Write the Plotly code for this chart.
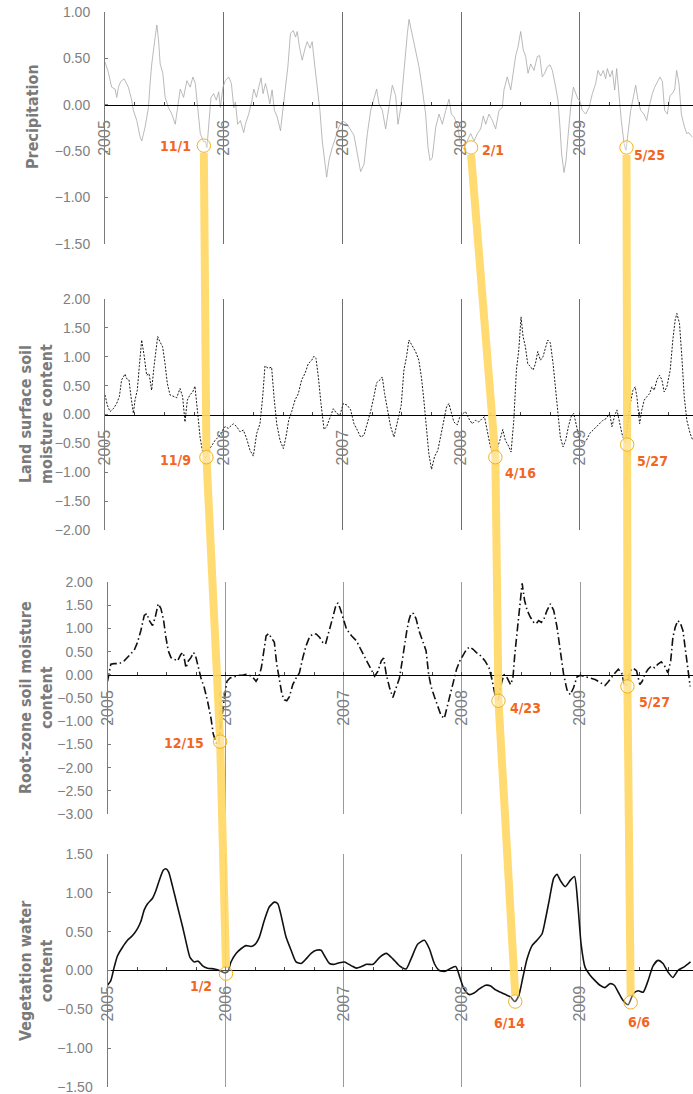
import plotly.graph_objects as go
from datetime import date

# ---------------- data (decimal year, standardized anomaly) ----------------
precip_points = [
    (2005.000, 0.46), (2005.028, 0.35), (2005.056, 0.19), (2005.085, 0.17), (2005.099, 0.08),
    (2005.113, 0.19), (2005.132, 0.25), (2005.161, 0.28), (2005.197, 0.19), (2005.225, 0.05),
    (2005.239, -0.06), (2005.268, -0.17), (2005.296, -0.35), (2005.310, -0.39), (2005.338, -0.24),
    (2005.366, -0.03), (2005.380, 0.23), (2005.394, 0.44), (2005.423, 0.73), (2005.437, 0.86),
    (2005.451, 0.70), (2005.465, 0.44), (2005.487, 0.34), (2005.507, 0.08), (2005.535, -0.03),
    (2005.563, -0.10), (2005.592, -0.21), (2005.606, -0.10), (2005.634, 0.17), (2005.662, 0.08),
    (2005.690, 0.26), (2005.718, 0.19), (2005.741, 0.30), (2005.761, 0.23), (2005.775, 0.05),
    (2005.789, -0.13), (2005.803, -0.31), (2005.831, -0.40), (2005.845, -0.39), (2005.859, -0.46),
    (2005.873, -0.24), (2005.893, 0.08), (2005.915, 0.12), (2005.938, 0.05), (2005.958, 0.14),
    (2005.972, -0.03), (2005.994, 0.19), (2006.014, 0.26), (2006.042, 0.30), (2006.065, 0.23),
    (2006.085, -0.03), (2006.099, 0.03), (2006.118, -0.21), (2006.141, -0.17), (2006.169, -0.30),
    (2006.183, -0.21), (2006.211, -0.10), (2006.239, 0.05), (2006.254, 0.17), (2006.276, 0.08),
    (2006.296, 0.19), (2006.315, 0.29), (2006.332, 0.12), (2006.352, 0.23), (2006.366, 0.16),
    (2006.389, 0.01), (2006.408, 0.16), (2006.428, -0.06), (2006.451, -0.13), (2006.479, -0.28),
    (2006.501, -0.03), (2006.521, 0.19), (2006.541, 0.41), (2006.563, 0.77), (2006.586, 0.80),
    (2006.606, 0.73), (2006.620, 0.79), (2006.639, 0.62), (2006.662, 0.48), (2006.682, 0.59),
    (2006.704, 0.68), (2006.727, 0.61), (2006.746, 0.68), (2006.766, 0.44), (2006.789, 0.16),
    (2006.811, -0.06), (2006.831, -0.39), (2006.851, -0.64), (2006.868, -0.78), (2006.887, -0.60),
    (2006.915, -0.46), (2006.944, -0.35), (2006.972, -0.24), (2007.000, -0.17),
    (2007.042, -0.21), (2007.098, -0.33), (2007.126, -0.53), (2007.154, -0.72), (2007.183, -0.64),
    (2007.211, -0.31), (2007.239, -0.06), (2007.267, 0.08), (2007.289, 0.17), (2007.309, 0.01),
    (2007.337, -0.06), (2007.365, -0.26), (2007.393, -0.03), (2007.421, 0.21), (2007.449, 0.10),
    (2007.469, -0.21), (2007.492, -0.03), (2007.514, 0.30), (2007.534, 0.55), (2007.548, 0.77),
    (2007.562, 0.92), (2007.581, 0.80), (2007.604, 0.66), (2007.626, 0.52), (2007.646, 0.41),
    (2007.674, 0.17), (2007.702, -0.10), (2007.722, -0.46), (2007.739, -0.60), (2007.758, -0.57),
    (2007.787, -0.24), (2007.815, -0.10), (2007.843, -0.21), (2007.871, -0.06), (2007.899, 0.06),
    (2007.919, -0.10), (2007.941, -0.13), (2007.969, -0.22), (2007.992, -0.39), (2008.011, -0.46),
    (2008.025, -0.48), (2008.053, -0.39), (2008.081, -0.31), (2008.110, -0.39), (2008.138, -0.31),
    (2008.166, -0.26), (2008.188, -0.12), (2008.208, -0.21), (2008.236, -0.10), (2008.264, -0.17),
    (2008.292, -0.26), (2008.320, -0.06), (2008.348, -0.03), (2008.362, 0.16), (2008.390, 0.30),
    (2008.419, 0.16), (2008.441, 0.37), (2008.461, 0.53), (2008.480, 0.62), (2008.503, 0.79),
    (2008.525, 0.59), (2008.545, 0.52), (2008.565, 0.34), (2008.587, 0.44), (2008.615, 0.37),
    (2008.643, 0.52), (2008.663, 0.53), (2008.685, 0.30), (2008.705, 0.34), (2008.728, 0.41),
    (2008.750, 0.43), (2008.770, 0.37), (2008.798, 0.19), (2008.817, 0.05), (2008.834, -0.24),
    (2008.848, -0.53), (2008.868, -0.73), (2008.885, -0.60), (2008.904, -0.31), (2008.924, -0.03),
    (2008.947, 0.19), (2008.966, 0.12), (2008.986, 0.06), (2009.000, 0.05), (2009.022, -0.06),
    (2009.051, -0.10), (2009.079, -0.03), (2009.107, 0.12), (2009.135, 0.23), (2009.154, 0.37),
    (2009.177, 0.31), (2009.199, 0.37), (2009.219, 0.28), (2009.233, 0.39), (2009.256, 0.30),
    (2009.275, 0.37), (2009.295, 0.16), (2009.312, 0.39), (2009.331, 0.08), (2009.351, -0.17),
    (2009.374, -0.42), (2009.390, -0.49), (2009.407, -0.31), (2009.430, -0.06), (2009.452, 0.08),
    (2009.472, 0.21), (2009.492, 0.05), (2009.514, -0.06), (2009.542, -0.10), (2009.565, -0.17),
    (2009.584, -0.03), (2009.612, 0.12), (2009.632, 0.19), (2009.654, 0.25), (2009.677, 0.30),
    (2009.697, 0.25), (2009.716, -0.06), (2009.739, -0.10), (2009.761, 0.10), (2009.781, 0.12),
    (2009.801, 0.17), (2009.817, 0.37), (2009.837, 0.23), (2009.857, -0.10), (2009.879, -0.22),
    (2009.902, -0.31), (2009.921, -0.30), (2009.949, -0.35),
]

land_points = [
    (2005.000, 0.34), (2005.020, 0.16), (2005.042, 0.05), (2005.070, 0.10), (2005.098, 0.19),
    (2005.121, 0.31), (2005.140, 0.60), (2005.169, 0.70), (2005.183, 0.62), (2005.202, 0.60),
    (2005.219, 0.31), (2005.239, 0.02), (2005.253, 0.25), (2005.272, 0.42), (2005.289, 0.83),
    (2005.309, 1.29), (2005.329, 1.03), (2005.351, 0.68), (2005.371, 0.71), (2005.393, 0.42),
    (2005.413, 0.83), (2005.430, 1.17), (2005.444, 1.35), (2005.463, 1.26), (2005.486, 1.17),
    (2005.506, 0.88), (2005.525, 0.54), (2005.548, 0.34), (2005.576, 0.31), (2005.604, 0.29),
    (2005.632, 0.45), (2005.654, 0.31), (2005.674, -0.13), (2005.694, 0.25), (2005.716, 0.34),
    (2005.739, 0.39), (2005.758, 0.49), (2005.772, 0.25), (2005.787, -0.10), (2005.801, -0.39),
    (2005.820, -0.62), (2005.837, -0.71), (2005.851, -0.76), (2005.871, -0.63), (2005.899, -0.53),
    (2005.927, -0.45), (2005.955, -0.39), (2005.983, -0.30), (2006.011, -0.21), (2006.039, -0.24),
    (2006.081, -0.16), (2006.110, -0.21), (2006.138, -0.30), (2006.166, -0.27), (2006.194, -0.42),
    (2006.222, -0.62), (2006.250, -0.72), (2006.278, -0.33), (2006.306, -0.16), (2006.329, 0.31),
    (2006.348, 0.84), (2006.376, 0.80), (2006.404, 0.82), (2006.424, 0.31), (2006.447, -0.16),
    (2006.475, -0.45), (2006.503, -0.59), (2006.525, -0.39), (2006.548, -0.10), (2006.573, 0.05),
    (2006.601, 0.25), (2006.629, 0.36), (2006.657, 0.60), (2006.685, 0.71), (2006.713, 0.88),
    (2006.742, 0.94), (2006.761, 1.01), (2006.778, 0.97), (2006.798, 0.65), (2006.820, 0.19),
    (2006.846, -0.26), (2006.868, -0.21), (2006.896, -0.04), (2006.924, 0.10), (2006.952, 0.02),
    (2006.980, -0.01), (2007.008, 0.19),
    (2007.042, 0.16), (2007.070, 0.08), (2007.098, -0.16), (2007.126, -0.27), (2007.154, -0.39),
    (2007.182, -0.36), (2007.210, -0.16), (2007.238, 0.05), (2007.266, 0.31), (2007.289, 0.55),
    (2007.317, 0.60), (2007.337, 0.65), (2007.356, 0.36), (2007.379, 0.08), (2007.407, -0.21),
    (2007.435, -0.39), (2007.457, -0.18), (2007.477, 0.02), (2007.496, 0.16), (2007.519, 0.77),
    (2007.541, 1.00), (2007.561, 1.29), (2007.589, 1.20), (2007.617, 1.09), (2007.645, 0.94),
    (2007.668, 0.62), (2007.687, 0.25), (2007.710, -0.21), (2007.729, -0.68), (2007.752, -0.95),
    (2007.777, -0.73), (2007.805, -0.62), (2007.827, -0.39), (2007.856, -0.04), (2007.878, 0.13),
    (2007.898, 0.19), (2007.917, 0.02), (2007.940, -0.13), (2007.968, -0.18), (2007.990, -0.04),
    (2008.018, 0.02), (2008.038, 0.05), (2008.066, -0.07), (2008.094, -0.16), (2008.122, -0.10),
    (2008.150, -0.13), (2008.178, -0.07), (2008.198, -0.04), (2008.220, -0.27), (2008.248, -0.56),
    (2008.276, -0.73), (2008.299, -0.62), (2008.327, -0.45), (2008.352, -0.26), (2008.374, -0.45),
    (2008.397, -0.53), (2008.422, -0.65), (2008.445, -0.10), (2008.467, 0.77), (2008.487, 1.12),
    (2008.506, 1.69), (2008.523, 1.35), (2008.543, 1.17), (2008.562, 0.88), (2008.585, 0.83),
    (2008.607, 0.77), (2008.627, 0.88), (2008.647, 1.09), (2008.669, 0.94), (2008.691, 1.00),
    (2008.714, 1.17), (2008.731, 1.29), (2008.753, 1.24), (2008.776, 0.88), (2008.795, 0.48),
    (2008.815, 0.02), (2008.837, -0.39), (2008.860, -0.56), (2008.882, -0.45), (2008.905, -0.21),
    (2008.927, -0.04), (2008.950, 0.02), (2008.972, -0.21), (2009.000, -0.45), (2009.028, -0.50),
    (2009.056, -0.45), (2009.084, -0.33), (2009.112, -0.27), (2009.140, -0.21), (2009.168, -0.16),
    (2009.196, -0.10), (2009.224, -0.07), (2009.252, 0.02), (2009.272, -0.21), (2009.292, -0.04),
    (2009.314, 0.08), (2009.337, -0.16), (2009.356, -0.33), (2009.384, -0.50), (2009.404, -0.21),
    (2009.426, 0.19), (2009.449, 0.42), (2009.468, 0.48), (2009.482, 0.31), (2009.505, -0.16),
    (2009.524, 0.08), (2009.544, 0.25), (2009.567, 0.31), (2009.589, 0.36), (2009.609, 0.48),
    (2009.628, 0.42), (2009.651, 0.60), (2009.673, 0.68), (2009.693, 0.60), (2009.712, 0.39),
    (2009.735, 0.48), (2009.763, 0.77), (2009.785, 1.29), (2009.805, 1.64), (2009.819, 1.75),
    (2009.841, 1.58), (2009.861, 1.00), (2009.881, 0.31), (2009.903, -0.10), (2009.931, -0.33),
    (2009.954, -0.45),
]

root_points = [
    (2005.000, -0.14), (2005.028, 0.23), (2005.056, 0.24), (2005.099, 0.24), (2005.141, 0.30),
    (2005.184, 0.41), (2005.226, 0.53), (2005.254, 0.70), (2005.282, 0.95), (2005.311, 1.28),
    (2005.333, 1.32), (2005.353, 1.17), (2005.381, 1.06), (2005.404, 1.24), (2005.429, 1.53),
    (2005.452, 1.43), (2005.475, 1.17), (2005.494, 0.81), (2005.514, 0.52), (2005.537, 0.37),
    (2005.565, 0.33), (2005.593, 0.30), (2005.621, 0.44), (2005.641, 0.48), (2005.664, 0.15),
    (2005.684, 0.30), (2005.706, 0.37), (2005.729, 0.48), (2005.749, 0.37), (2005.771, 0.15),
    (2005.791, -0.07), (2005.819, -0.28), (2005.847, -0.57), (2005.876, -0.94), (2005.895, -1.27),
    (2005.918, -1.46), (2005.941, -1.52), (2005.955, -1.16), (2005.969, -0.87), (2005.989, -0.50),
    (2006.011, -0.14), (2006.037, -0.07), (2006.059, -0.05), (2006.088, -0.03), (2006.116, -0.01),
    (2006.144, -0.01), (2006.172, 0.01), (2006.201, -0.01), (2006.229, -0.05), (2006.257, -0.14),
    (2006.280, -0.05), (2006.302, 0.15), (2006.322, 0.52), (2006.342, 0.84), (2006.364, 0.89),
    (2006.387, 0.81), (2006.412, 0.70), (2006.432, 0.23), (2006.455, -0.14), (2006.477, -0.43),
    (2006.497, -0.54), (2006.517, -0.56), (2006.540, -0.47), (2006.568, -0.21), (2006.596, -0.07),
    (2006.624, 0.04), (2006.653, 0.37), (2006.681, 0.63), (2006.709, 0.81), (2006.737, 0.88),
    (2006.766, 0.88), (2006.794, 0.81), (2006.822, 0.70), (2006.845, 0.66), (2006.864, 0.84),
    (2006.887, 1.03), (2006.907, 1.24), (2006.929, 1.46), (2006.949, 1.55), (2006.969, 1.43),
    (2006.992, 1.24),
    (2007.022, 0.99), (2007.065, 0.84), (2007.107, 0.73), (2007.149, 0.52), (2007.191, 0.30),
    (2007.233, 0.08), (2007.261, -0.03), (2007.289, 0.08), (2007.317, 0.30), (2007.337, 0.36),
    (2007.359, 0.01), (2007.387, -0.28), (2007.415, -0.49), (2007.443, -0.28), (2007.471, -0.07),
    (2007.494, 0.30), (2007.513, 0.66), (2007.533, 0.95), (2007.550, 1.17), (2007.569, 1.32),
    (2007.589, 1.32), (2007.611, 1.21), (2007.640, 0.92), (2007.668, 0.70), (2007.696, 0.52),
    (2007.718, 0.01), (2007.738, -0.25), (2007.766, -0.47), (2007.794, -0.68), (2007.822, -0.87),
    (2007.850, -0.94), (2007.872, -0.72), (2007.898, -0.43), (2007.926, -0.14), (2007.954, 0.12),
    (2007.982, 0.30), (2008.010, 0.44), (2008.038, 0.55), (2008.066, 0.60), (2008.094, 0.55),
    (2008.122, 0.48), (2008.158, 0.41), (2008.195, 0.30), (2008.229, 0.15), (2008.251, -0.07),
    (2008.271, -0.36), (2008.290, -0.56), (2008.307, -0.54), (2008.327, -0.25), (2008.355, 0.01),
    (2008.383, -0.07), (2008.411, -0.21), (2008.431, -0.07), (2008.447, 0.44), (2008.467, 0.95),
    (2008.487, 1.46), (2008.509, 1.97), (2008.529, 1.61), (2008.551, 1.39), (2008.579, 1.24),
    (2008.607, 1.13), (2008.627, 1.10), (2008.649, 1.17), (2008.672, 1.13), (2008.694, 1.21),
    (2008.720, 1.39), (2008.748, 1.53), (2008.776, 1.39), (2008.804, 1.03), (2008.832, 0.52),
    (2008.860, 0.01), (2008.888, -0.32), (2008.916, -0.43), (2008.944, -0.28), (2008.972, -0.05),
    (2009.000, -0.01), (2009.028, -0.03), (2009.056, -0.05), (2009.093, -0.07), (2009.126, -0.10),
    (2009.160, -0.15), (2009.188, -0.20), (2009.210, -0.23), (2009.238, -0.15), (2009.266, -0.05),
    (2009.295, 0.04), (2009.323, 0.12), (2009.351, 0.04), (2009.379, -0.25), (2009.396, -0.21),
    (2009.421, 0.08), (2009.449, 0.14), (2009.477, 0.09), (2009.505, -0.21), (2009.525, -0.14),
    (2009.547, 0.01), (2009.575, 0.12), (2009.603, 0.19), (2009.631, 0.15), (2009.659, 0.23),
    (2009.687, 0.28), (2009.715, 0.19), (2009.743, 0.04), (2009.766, 0.30), (2009.785, 0.81),
    (2009.805, 1.03), (2009.827, 1.17), (2009.850, 1.10), (2009.870, 0.95), (2009.889, 0.59),
    (2009.912, 0.23), (2009.931, -0.25),
]

veg_points = [
    (2005.000, -0.19), (2005.028, -0.13), (2005.056, 0.04), (2005.085, 0.19), (2005.127, 0.30),
    (2005.169, 0.39), (2005.212, 0.45), (2005.254, 0.54), (2005.282, 0.63), (2005.311, 0.78),
    (2005.339, 0.86), (2005.381, 0.93), (2005.410, 1.03), (2005.438, 1.16), (2005.472, 1.29),
    (2005.494, 1.31), (2005.517, 1.27), (2005.551, 1.08), (2005.593, 0.82), (2005.636, 0.56),
    (2005.669, 0.34), (2005.698, 0.17), (2005.734, 0.11), (2005.768, 0.12), (2005.805, 0.06),
    (2005.847, 0.03), (2005.904, 0.02), (2005.946, 0.00), (2005.975, -0.02), (2005.997, -0.03),
    (2006.020, -0.01), (2006.045, 0.11), (2006.088, 0.22), (2006.130, 0.28), (2006.172, 0.32),
    (2006.215, 0.31), (2006.251, 0.34), (2006.285, 0.43), (2006.328, 0.65), (2006.370, 0.82),
    (2006.412, 0.88), (2006.441, 0.86), (2006.469, 0.71), (2006.511, 0.43), (2006.554, 0.26),
    (2006.596, 0.11), (2006.638, 0.09), (2006.681, 0.15), (2006.723, 0.22), (2006.766, 0.26),
    (2006.808, 0.26), (2006.836, 0.19), (2006.879, 0.09), (2006.921, 0.08), (2006.963, 0.10),
    (2007.006, 0.11),
    (2007.065, 0.06), (2007.107, 0.03), (2007.149, 0.05), (2007.191, 0.08), (2007.247, 0.08),
    (2007.303, 0.17), (2007.359, 0.22), (2007.415, 0.15), (2007.471, 0.06), (2007.527, 0.02),
    (2007.569, 0.15), (2007.626, 0.34), (2007.682, 0.39), (2007.724, 0.28), (2007.766, 0.09),
    (2007.808, 0.00), (2007.858, -0.01), (2007.906, 0.03), (2007.948, 0.05), (2007.982, -0.09),
    (2008.018, -0.24), (2008.060, -0.31), (2008.102, -0.29), (2008.144, -0.24), (2008.201, -0.19),
    (2008.243, -0.20), (2008.285, -0.25), (2008.327, -0.28), (2008.369, -0.31), (2008.411, -0.34),
    (2008.447, -0.40), (2008.481, -0.32), (2008.515, -0.09), (2008.551, 0.15), (2008.593, 0.32),
    (2008.635, 0.39), (2008.677, 0.47), (2008.705, 0.65), (2008.739, 0.91), (2008.776, 1.19),
    (2008.804, 1.24), (2008.832, 1.16), (2008.874, 1.08), (2008.916, 1.16), (2008.952, 1.21),
    (2008.980, 0.86), (2009.008, 0.34), (2009.042, 0.04), (2009.084, -0.06), (2009.126, -0.13),
    (2009.168, -0.19), (2009.210, -0.22), (2009.252, -0.17), (2009.289, -0.19), (2009.323, -0.28),
    (2009.365, -0.39), (2009.407, -0.44), (2009.449, -0.30), (2009.491, -0.26), (2009.533, -0.28),
    (2009.575, -0.13), (2009.617, 0.06), (2009.659, 0.13), (2009.701, 0.09), (2009.743, -0.02),
    (2009.785, -0.09), (2009.827, 0.00), (2009.884, 0.05), (2009.934, 0.11),
]

panel_titles = [
    "Precipitation",
    "Land surface soil<br>moisture content",
    "Root-zone soil moisture<br>content",
    "Vegetation water<br>content",
]
y_ranges = [[-1.5, 1.0], [-2.0, 2.0], [-3.0, 2.0], [-1.5, 1.5]]
year_ticks = [2005, 2006, 2007, 2008, 2009]

# lag chains: one marked date per panel (top to bottom)
chains = [
    [("2005-11-01", -0.44), ("2005-11-09", -0.74), ("2005-12-15", -1.44), ("2006-01-02", -0.04)],
    [("2008-02-01", -0.46), ("2008-04-16", -0.74), ("2008-04-23", -0.56), ("2008-06-14", -0.40)],
    [("2009-05-25", -0.46), ("2009-05-27", -0.52), ("2009-05-27", -0.25), ("2009-06-06", -0.41)],
]

# ---------------- layout / styling ----------------
W, H = 693, 1094
x_range = [2005, 2009.955]
x_domains = [[105 / W, 1.0], [105 / W, 1.0], [107.5 / W, 1.0], [107.5 / W, 1.0]]
y_domains = [[0.77697, 0.98903], [0.51554, 0.72669], [0.25594, 0.46801], [0.0064, 0.21938]]
grid_colors = ["#6e6e6e", "#6e6e6e", "#9a9a9a", "#9a9a9a"]
title_pos = [(32, 117), (36, 414), (36, 698), (36, 971)]

label_styles = [
    [("right", -11, 0), ("right", -13, -3), ("right", -14, -1), ("right", -12, -12)],
    [("left", 9, -3), ("left", 8, -16), ("left", 10, -7), ("center", -6, -21)],
    [("left", 6, -8), ("left", 8, -16), ("left", 10, -16), ("center", 8, -20)],
]

series_styles = [
    dict(color="#a8a8a8", width=0.8),
    dict(color="#1a1a1a", width=1.0, dash="2px,1.5px"),
    dict(color="#111111", width=1.6, dash="8px,3px,1.5px,3px"),
    dict(color="#111111", width=1.6),
]

TICK_FONT = "Liberation Sans, Arial, sans-serif"
NARROW = "DejaVu Sans Condensed, DejaVu Sans, sans-serif"


def dec_year(s):
    d = date.fromisoformat(s)
    a, b = date(d.year, 1, 1), date(d.year + 1, 1, 1)
    return d.year + (d - a).days / (b - a).days


def md_label(s):
    d = date.fromisoformat(s)
    return f"{d.month}/{d.day}"


def to_paper(i, xv, yv):
    xd, yd, yr = x_domains[i], y_domains[i], y_ranges[i]
    px = xd[0] + (xv - x_range[0]) / (x_range[1] - x_range[0]) * (xd[1] - xd[0])
    py = yd[0] + (yv - yr[0]) / (yr[1] - yr[0]) * (yd[1] - yd[0])
    return px, py


fig = go.Figure()
all_series = [precip_points, land_points, root_points, veg_points]

for i, pts in enumerate(all_series):
    sfx = "" if i == 0 else str(i + 1)
    xs = [p[0] for p in pts]
    ys = [p[1] for p in pts]
    line = dict(series_styles[i])
    if i == 3:
        line.update(shape="spline", smoothing=0.6)
    fig.add_trace(go.Scatter(x=xs, y=ys, mode="lines", line=line,
                             xaxis="x" + sfx, yaxis="y" + sfx,
                             hoverinfo="skip", showlegend=False))

    yr = y_ranges[i]
    yd = y_domains[i]
    zero_pos = yd[0] + (0 - yr[0]) / (yr[1] - yr[0]) * (yd[1] - yd[0])

    fig.layout["xaxis" + sfx] = dict(
        domain=x_domains[i], range=x_range, anchor="free", position=zero_pos,
        automargin=False,
        tickmode="array", tickvals=year_ticks, ticktext=[str(t) for t in year_ticks],
        tickangle=-90, tickfont=dict(family=TICK_FONT, size=16, color="#808080"),
        ticklabelstandoff=8, ticklabeloverflow="allow",
        showline=True, linecolor="#000000", linewidth=1,
        ticks="inside", ticklen=3, tickcolor="#444444",
        minor=dict(dtick=0.25, tick0=2005, ticks="inside", ticklen=3, tickcolor="#444444", showgrid=False),
        showgrid=True, gridcolor=grid_colors[i], gridwidth=1, zeroline=False,
    )
    fig.layout["yaxis" + sfx] = dict(
        domain=yd, range=yr, anchor="x" + sfx, dtick=0.5, tick0=0, tickformat=".2f",
        automargin=False, ticklabeloverflow="allow",
        tickfont=dict(family=TICK_FONT, size=14, color="#808080"),
        showline=True, linecolor="#7a7a7a", linewidth=1,
        ticks="inside", ticklen=3, tickcolor="#7a7a7a", ticklabelstandoff=11,
        showgrid=False, zeroline=False,
    )

    tx, ty = title_pos[i]
    fig.add_annotation(xref="paper", yref="paper", x=tx / W, y=1 - ty / H,
                       text="<b>" + panel_titles[i] + "</b>", textangle=-90, showarrow=False,
                       font=dict(family=NARROW, size=16, color="#7a7a7a"),
                       xanchor="center", yanchor="middle", align="center")

R = 6.7
# yellow lag bands
for chain in chains:
    pts = []
    for i, (ds, v) in enumerate(chain):
        px, py = to_paper(i, dec_year(ds), v)
        if i == 0:
            py -= (R + 0.5) / H
        if i == len(chain) - 1:
            py += R / H
        pts.append((px, py))
    path = "M " + " L ".join(f"{p[0]:.5f},{p[1]:.5f}" for p in pts)
    fig.add_shape(type="path", path=path, xref="paper", yref="paper",
                  line=dict(color="#FFD966", width=8), opacity=0.92, layer="above")

# circles + date labels
for c, chain in enumerate(chains):
    for i, (ds, v) in enumerate(chain):
        sfx = "" if i == 0 else str(i + 1)
        xv = dec_year(ds)
        fig.add_shape(type="circle", xref="x" + sfx, yref="y" + sfx,
                      xsizemode="pixel", ysizemode="pixel", xanchor=xv, yanchor=v,
                      x0=-R, x1=R, y0=-R, y1=R,
                      line=dict(color="#F2B21B", width=1),
                      fillcolor="rgba(255,255,255,0.3)", layer="above")
        anc, xs_, ys_ = label_styles[c][i]
        fig.add_annotation(xref="x" + sfx, yref="y" + sfx, x=xv, y=v,
                           text="<b>" + md_label(ds) + "</b>", showarrow=False,
                           xanchor=anc, yanchor="middle", xshift=xs_, yshift=ys_,
                           font=dict(family=NARROW, size=14, color="#F26522"))

fig.update_layout(width=W, height=H, margin=dict(l=0, r=0, t=0, b=0, pad=0, autoexpand=False),
                  paper_bgcolor="white", plot_bgcolor="white", showlegend=False)

fig.write_html(
    "out.html",
    post_script="document.body.style.margin='0';document.body.style.padding='0';"
                "document.documentElement.style.overflow='hidden';",
)
